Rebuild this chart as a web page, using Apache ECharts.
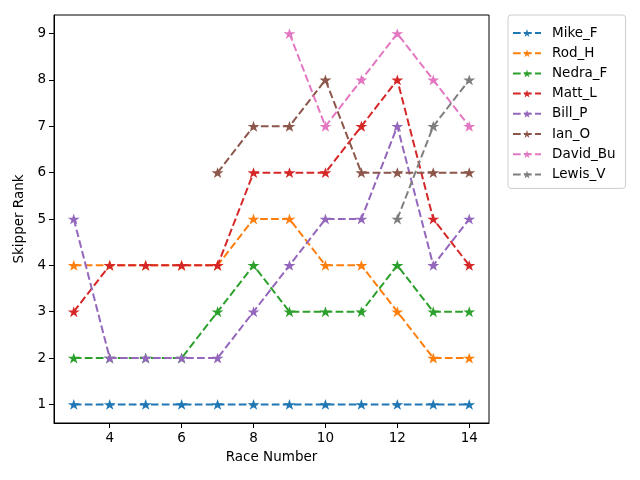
<!DOCTYPE html>
<html><head><meta charset="utf-8">
<script src="https://cdn.jsdelivr.net/npm/echarts@6/dist/echarts.min.js"></script>
<style>html,body{margin:0;padding:0;background:#fff}#c{width:640px;height:480px}</style>
</head><body><div id="c"></div>
<script>
const races = [3,4,5,6,7,8,9,10,11,12,13,14];
const names = ['Mike_F','Rod_H','Nedra_F','Matt_L','Bill_P','Ian_O','David_Bu','Lewis_V'];
const mikeF   = [1,1,1,1,1,1,1,1,1,1,1,1];
const rodH    = [4,4,4,4,4,5,5,4,4,3,2,2];
const nedraF  = [2,2,2,2,3,4,3,3,3,4,3,3];
const mattL   = [3,4,4,4,4,6,6,6,7,8,5,4];
const billP   = [5,2,2,2,2,3,4,5,5,7,4,5];
const ianO    = [null,null,null,null,6,7,7,8,6,6,6,6];
const davidBu = [null,null,null,null,null,null,9,7,8,9,8,7];
const lewisV  = [null,null,null,null,null,null,null,null,null,5,7,8];
const xTicks = [4,6,8,10,12,14];
const yTicks = [1,2,3,4,5,6,7,8,9];
const colors = ['#1f77b4','#ff7f0e','#2ca02c','#d62728','#9467bd','#8c564b','#e377c2','#7f7f7f'];
const allSeries = [mikeF,rodH,nedraF,mattL,billP,ianO,davidBu,lewisV];
const star = 'path://M50,0 L61.2,34.5 L97.6,34.5 L68.2,55.9 L79.4,90.5 L50,69.1 L20.6,90.5 L31.8,55.9 L2.4,34.5 L38.8,34.5 Z';
const font = 'DejaVu Sans';

const series = allSeries.map((vals, i) => ({
  name: names[i],
  type: 'line',
  data: races.map((r, j) => vals[j] == null ? null : [r, vals[j]]).filter(d => d),
  color: colors[i],
  symbol: star,
  symbolSize: [12, 11.4],
  symbolKeepAspect: true,
  showSymbol: true,
  lineStyle: { width: 2, type: [7.7, 3.3], color: colors[i] },
  itemStyle: { color: colors[i] },
  emphasis: { disabled: true },
  animation: false,
  z: 2 + i
}));

const chart = echarts.init(document.getElementById('c'), null, { renderer: 'canvas' });
chart.setOption({
  animation: false,
  textStyle: { fontFamily: font },
  grid: { left: 54, right: 151, top: 15, bottom: 57, show: true, borderColor: '#000', borderWidth: 1, containLabel: false },
  xAxis: {
    type: 'value', min: 2.45, max: 14.55,
    name: 'Race Number', nameLocation: 'middle', nameGap: 27,
    nameTextStyle: { fontSize: 13.5, color: '#000', fontFamily: font },
    axisLine: { show: true, onZero: false, lineStyle: { color: '#000', width: 1 } },
    axisTick: { show: true, customValues: xTicks, length: 5, lineStyle: { color: '#000' } },
    axisLabel: { customValues: xTicks, fontSize: 13.5, color: '#000', margin: 8, fontFamily: font },
    splitLine: { show: false }
  },
  yAxis: {
    type: 'value', min: 0.6, max: 9.4,
    name: 'Skipper Rank', nameLocation: 'middle', nameGap: 27, nameRotate: 90,
    nameTextStyle: { fontSize: 13.5, color: '#000', fontFamily: font },
    axisLine: { show: true, onZero: false, lineStyle: { color: '#000', width: 1 } },
    axisTick: { show: true, customValues: yTicks, length: 5, lineStyle: { color: '#000' } },
    axisLabel: { customValues: yTicks, fontSize: 13.5, color: '#000', margin: 8, fontFamily: font },
    splitLine: { show: false }
  },
  legend: {
    orient: 'vertical', left: 508, top: 15,
    width: 114,
    padding: [11, 10, 7, 4],
    itemWidth: 28, itemHeight: 10, itemGap: 6.2,
    borderColor: '#ccc', borderWidth: 1, borderRadius: 3,
    textStyle: { fontSize: 13.5, color: '#000', fontFamily: font, padding: [0, 0, 0, 6] },
    data: names
  },
  series: series
});
</script></body></html>
